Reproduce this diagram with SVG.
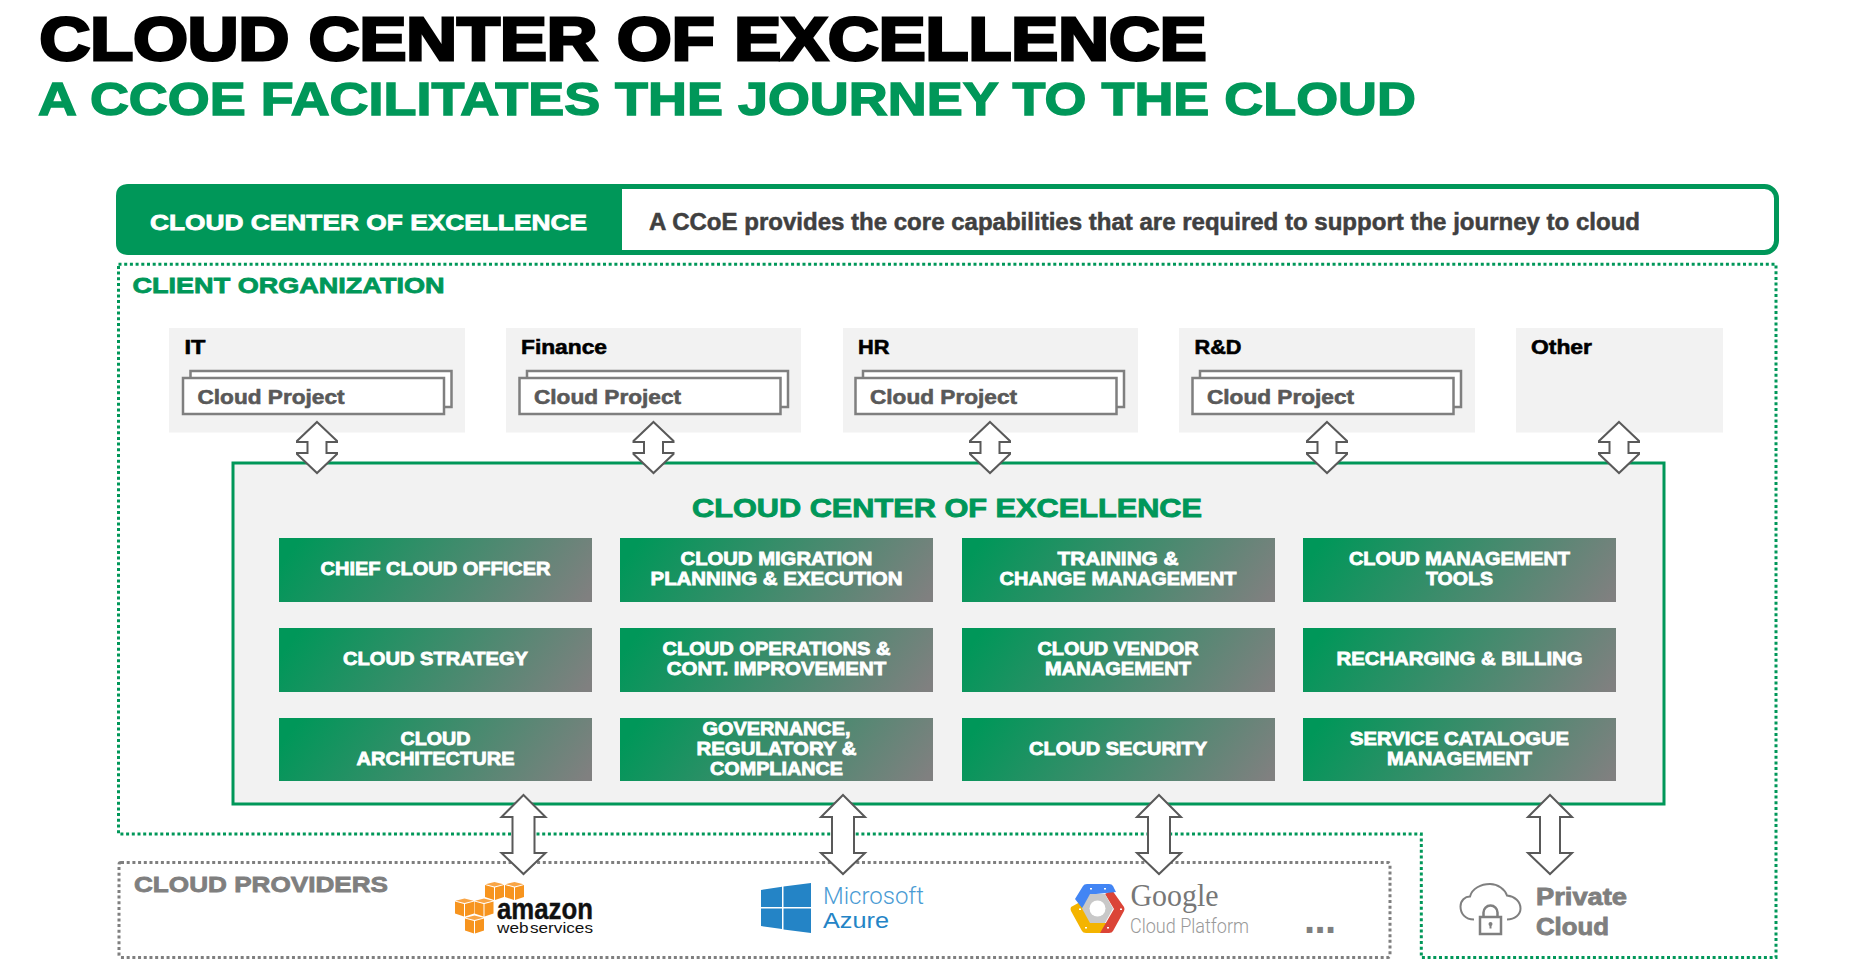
<svg xmlns="http://www.w3.org/2000/svg" width="1858" height="969" viewBox="0 0 1858 969">
<style>
text{font-family:"Liberation Sans",Arial,sans-serif;font-weight:700}
.t{font-size:18.5px;fill:#fff;stroke:#fff;stroke-width:.8;text-anchor:middle}
.dept{fill:#f2f2f2}
.dl{font-size:21px;fill:#000;stroke:#000;stroke-width:.6}
.cp{fill:#fff;stroke:#7f7f7f;stroke-width:2.5}
.cpt{font-size:21px;fill:#595959;stroke:#595959;stroke-width:.6}
.cell{fill:url(#g)}
.arrow{fill:#fff;stroke:#595959;stroke-width:2}
.grn{fill:#009759;stroke:#009759}
.gry{fill:#7f7f7f;stroke:#7f7f7f}
.dots{fill:none;stroke-width:3;stroke-dasharray:3 2.7}
.lt{font-family:Roboto,"Liberation Sans",sans-serif;font-weight:300}
</style>
<defs>
<linearGradient id="g" x1="0" y1="0" x2="1.1" y2="0.165"><stop offset="0.06" stop-color="#009759"/><stop offset="1" stop-color="#808080"/></linearGradient>
<path id="as" d="M0 422 L20 441 V442 H9.5 V453 H20 V454 L0 473 L-20 454 V453 H-9.5 V442 H-20 V441 Z"/>
<path id="al" d="M0 795 L22 817 H11 V853 H22 L0 874 L-22 853 H-11 V817 H-22 Z"/>
<path id="al2" d="M0 795 L22 817 H10 V853 H22 L0 874 L-22 853 H-10 V817 H-22 Z"/>
<g id="cube"><path d="M0 3 L9 5.500 V18 L0 15Z M19 3 L10 5.500 V18 L19 15Z" fill="#f7941e"/><path d="M0.500 2.200 L9.500 0 L18.500 2.200 L9.500 4.500Z" fill="#f9a545"/></g>
<g id="stack"><rect class="cp" x="7.500" y="371" width="261" height="36"/><rect class="cp" x="0" y="378" width="261" height="36"/></g>
</defs>
<rect width="1858" height="969" fill="#fff"/>
<g id="title">
<text x="39.500" y="59.500" font-size="61" fill="#000" stroke="#000" stroke-width="3" textLength="1167" lengthAdjust="spacingAndGlyphs">CLOUD CENTER OF EXCELLENCE</text>
<text x="38" y="115" font-size="46" class="grn" stroke-width="1.4" textLength="1378" lengthAdjust="spacingAndGlyphs">A CCOE FACILITATES THE JOURNEY TO THE CLOUD</text>
</g>
<g id="banner">
<rect x="119" y="186.500" width="1657.500" height="66" rx="12" fill="#fff" stroke="#009759" stroke-width="5"/>
<path d="M129 184 H622 V250 Q622 255 617 255 H129 Q116 255 116 243 V196 Q116 184 129 184Z" fill="#009759"/>
<text x="150" y="229.500" font-size="22.500" fill="#fff" stroke="#fff" stroke-width=".8" textLength="437" lengthAdjust="spacingAndGlyphs">CLOUD CENTER OF EXCELLENCE</text>
<text x="649" y="230" font-size="23" fill="#404040" stroke="#404040" stroke-width=".5" textLength="991" lengthAdjust="spacingAndGlyphs">A CCoE provides the core capabilities that are required to support the journey to cloud</text>
</g>
<g id="client-organization">
<path class="dots" stroke="#009759" d="M118.500 264.300 H1776 V957.500 H1421.300 V834 H118.500 Z"/>
<text x="132.500" y="293" font-size="22.500" class="grn" stroke-width=".8" textLength="312" lengthAdjust="spacingAndGlyphs">CLIENT ORGANIZATION</text>
</g>
<g id="dept-it"><rect class="dept" x="169" y="328" width="296" height="104.500"/><text class="dl" x="184.500" y="354" textLength="21" lengthAdjust="spacingAndGlyphs">IT</text><use href="#stack" x="183"/><text class="cpt" x="197.500" y="404" textLength="147" lengthAdjust="spacingAndGlyphs">Cloud Project</text></g>
<g id="dept-finance"><rect class="dept" x="506" y="328" width="295" height="104.500"/><text class="dl" x="521" y="354" textLength="86" lengthAdjust="spacingAndGlyphs">Finance</text><use href="#stack" x="519.500"/><text class="cpt" x="534" y="404" textLength="147" lengthAdjust="spacingAndGlyphs">Cloud Project</text></g>
<g id="dept-hr"><rect class="dept" x="843" y="328" width="295" height="104.500"/><text class="dl" x="858" y="354" textLength="31.500" lengthAdjust="spacingAndGlyphs">HR</text><use href="#stack" x="855.500"/><text class="cpt" x="870" y="404" textLength="147" lengthAdjust="spacingAndGlyphs">Cloud Project</text></g>
<g id="dept-rd"><rect class="dept" x="1179" y="328" width="296" height="104.500"/><text class="dl" x="1194.500" y="354" textLength="47" lengthAdjust="spacingAndGlyphs">R&amp;D</text><use href="#stack" x="1192.500"/><text class="cpt" x="1207" y="404" textLength="147" lengthAdjust="spacingAndGlyphs">Cloud Project</text></g>
<g id="dept-other"><rect class="dept" x="1516" y="328" width="207" height="104.500"/><text class="dl" x="1531" y="354" textLength="61" lengthAdjust="spacingAndGlyphs">Other</text></g>
<g id="ccoe">
<rect x="233" y="463" width="1431" height="341" fill="#f2f2f2" stroke="#009759" stroke-width="3"/>
<text x="947" y="517" font-size="26.500" class="grn" stroke-width=".9" text-anchor="middle" textLength="510" lengthAdjust="spacingAndGlyphs">CLOUD CENTER OF EXCELLENCE</text>
</g>
<g id="cell-chief"><rect class="cell" x="279" y="538" width="313" height="64"/><text class="t" x="435.500" y="575" textLength="230" lengthAdjust="spacingAndGlyphs">CHIEF CLOUD OFFICER</text></g>
<g id="cell-migration"><rect class="cell" x="620" y="538" width="313" height="64"/><text class="t" x="776.500" y="565" textLength="192" lengthAdjust="spacingAndGlyphs">CLOUD MIGRATION</text><text class="t" x="776.500" y="585" textLength="252" lengthAdjust="spacingAndGlyphs">PLANNING &amp; EXECUTION</text></g>
<g id="cell-training"><rect class="cell" x="962" y="538" width="313" height="64"/><text class="t" x="1118" y="565" textLength="121" lengthAdjust="spacingAndGlyphs">TRAINING &amp;</text><text class="t" x="1118" y="585" textLength="237" lengthAdjust="spacingAndGlyphs">CHANGE MANAGEMENT</text></g>
<g id="cell-tools"><rect class="cell" x="1303" y="538" width="313" height="64"/><text class="t" x="1459.500" y="565" textLength="221" lengthAdjust="spacingAndGlyphs">CLOUD MANAGEMENT</text><text class="t" x="1459.500" y="585" textLength="67" lengthAdjust="spacingAndGlyphs">TOOLS</text></g>
<g id="cell-strategy"><rect class="cell" x="279" y="628" width="313" height="64"/><text class="t" x="435.500" y="665" textLength="185" lengthAdjust="spacingAndGlyphs">CLOUD STRATEGY</text></g>
<g id="cell-operations"><rect class="cell" x="620" y="628" width="313" height="64"/><text class="t" x="776.500" y="655" textLength="228" lengthAdjust="spacingAndGlyphs">CLOUD OPERATIONS &amp;</text><text class="t" x="776.500" y="675" textLength="219.500" lengthAdjust="spacingAndGlyphs">CONT. IMPROVEMENT</text></g>
<g id="cell-vendor"><rect class="cell" x="962" y="628" width="313" height="64"/><text class="t" x="1118" y="655" textLength="161" lengthAdjust="spacingAndGlyphs">CLOUD VENDOR</text><text class="t" x="1118" y="675" textLength="146" lengthAdjust="spacingAndGlyphs">MANAGEMENT</text></g>
<g id="cell-billing"><rect class="cell" x="1303" y="628" width="313" height="64"/><text class="t" x="1459.500" y="665" textLength="246" lengthAdjust="spacingAndGlyphs">RECHARGING &amp; BILLING</text></g>
<g id="cell-architecture"><rect class="cell" x="279" y="718" width="313" height="63"/><text class="t" x="435.500" y="745" textLength="70" lengthAdjust="spacingAndGlyphs">CLOUD</text><text class="t" x="435.500" y="765" textLength="158" lengthAdjust="spacingAndGlyphs">ARCHITECTURE</text></g>
<g id="cell-governance"><rect class="cell" x="620" y="718" width="313" height="63"/><text class="t" x="776.500" y="735" textLength="148" lengthAdjust="spacingAndGlyphs">GOVERNANCE,</text><text class="t" x="776.500" y="755" textLength="160" lengthAdjust="spacingAndGlyphs">REGULATORY &amp;</text><text class="t" x="776.500" y="775" textLength="133" lengthAdjust="spacingAndGlyphs">COMPLIANCE</text></g>
<g id="cell-security"><rect class="cell" x="962" y="718" width="313" height="63"/><text class="t" x="1118" y="755" textLength="178" lengthAdjust="spacingAndGlyphs">CLOUD SECURITY</text></g>
<g id="cell-catalogue"><rect class="cell" x="1303" y="718" width="313" height="63"/><text class="t" x="1459.500" y="745" textLength="219" lengthAdjust="spacingAndGlyphs">SERVICE CATALOGUE</text><text class="t" x="1459.500" y="765" textLength="145" lengthAdjust="spacingAndGlyphs">MANAGEMENT</text></g>
<g id="cloud-providers">
<rect class="dots" stroke="#7f7f7f" x="119" y="862.500" width="1271" height="95" rx="2"/>
<text x="134" y="892" font-size="22.500" class="gry" stroke-width=".8" textLength="254" lengthAdjust="spacingAndGlyphs">CLOUD PROVIDERS</text>
</g>
<g id="aws">
<use href="#cube" x="485" y="882"/><use href="#cube" x="505" y="882"/>
<use href="#cube" x="455" y="898.500"/><use href="#cube" x="474.500" y="898.500"/>
<use href="#cube" x="465" y="915.500"/>
<text x="497" y="918.500" font-size="29" fill="#111" stroke="#111" stroke-width=".4" textLength="96" lengthAdjust="spacingAndGlyphs">amazon</text>
<text x="497" y="933" font-size="15.500" fill="#111" style="font-weight:400;word-spacing:-3px" textLength="96" lengthAdjust="spacingAndGlyphs">web services</text>
</g>
<g id="azure" transform="translate(0 1)">
<path fill="#2484c6" d="M761 889 L782 885.800 V906 H761Z M783.500 885.500 L811 882 V906 H783.500Z M761 907.500 H782 V928 L761 925Z M783.500 907.500 H811 V932 L783.500 928.500Z"/>
<text class="lt" x="823" y="902.500" font-size="23" fill="#4a9bd4" textLength="101" lengthAdjust="spacingAndGlyphs">Microsoft</text>
<text x="823" y="926.500" font-size="22" fill="#2484c6" style="font-weight:400" textLength="66" lengthAdjust="spacingAndGlyphs">Azure</text>
</g>
<g id="google" transform="translate(0 1)">
<path fill="#f4b400" d="M1071 906 Q1070 908 1071 910 L1082 930 Q1083 932 1086 932 H1104 L1112 922 H1092 L1082 900Z"/>
<path fill="#db4437" d="M1112 889 L1124 906 Q1125 908 1124 910 L1113 930 Q1112 932 1109 932 H1100 L1114 908 L1105 893Z"/>
<path fill="#4285f4" d="M1075 898 L1083 885 Q1084 883 1087 883 H1109 Q1112 883 1113 885 L1116 891 L1096 893 L1082 907Z"/>
<path fill="#c8c8c8" d="M1082 907.500 L1090 893 H1105 L1113 907.500 L1105 922 H1090Z"/>
<circle cx="1097.500" cy="907.500" r="8" fill="#fff"/>
<path fill="#fff" d="M1079 907.500h2v1.500h-2z M1090 887h2v1.500h-2z M1104 887h2v1.500h-2z M1120 907.500h2v1.500h-2z M1107 926h2v1.500h-2z M1085 926h2v1.500h-2z"/>
<text x="1130.500" y="905" font-size="32" fill="#777" style="font-family:'Liberation Serif',serif;font-weight:400" textLength="88" lengthAdjust="spacingAndGlyphs">Google</text>
<text class="lt" x="1130" y="932" font-size="19.500" fill="#999" textLength="119" lengthAdjust="spacingAndGlyphs">Cloud Platform</text>
<text x="1304" y="932" font-size="40" fill="#7f7f7f" textLength="32">...</text>
</g>
<g id="private-cloud">
<g transform="translate(0 1.500)">
<path d="M1474 918 C1465 918 1460.500 912 1460.500 905 C1460.500 899 1465 895 1470 895 C1472 887 1481 882.500 1490 882.500 C1498 882.500 1505 888 1507 894 C1515 895 1520.500 900 1520.500 907 C1520.500 913 1515 918 1507 918" fill="none" stroke="#7f7f7f" stroke-width="2"/>
<rect x="1480" y="915.500" width="21" height="17" fill="#fff" stroke="#7f7f7f" stroke-width="2.500"/>
<path d="M1483.500 915 V911 A7 7 0 0 1 1497.500 911 V915" fill="none" stroke="#7f7f7f" stroke-width="2.500"/>
<path d="M1490.500 922 V927" stroke="#7f7f7f" stroke-width="2"/><circle cx="1490.500" cy="922.500" r="2" fill="#7f7f7f"/>
</g>
<text x="1536" y="905" font-size="23" class="gry" stroke-width=".8" textLength="91" lengthAdjust="spacingAndGlyphs">Private</text>
<text x="1536" y="934.500" font-size="23" class="gry" stroke-width=".8" textLength="73" lengthAdjust="spacingAndGlyphs">Cloud</text>
</g>
<g id="connectors">
<use href="#as" class="arrow" x="317"/><use href="#as" class="arrow" x="653.500"/><use href="#as" class="arrow" x="990"/><use href="#as" class="arrow" x="1327"/><use href="#as" class="arrow" x="1619"/>
<use href="#al" class="arrow" x="523.500"/><use href="#al" class="arrow" x="843"/><use href="#al" class="arrow" x="1159"/><use href="#al2" class="arrow" x="1550"/>
</g>
</svg>
